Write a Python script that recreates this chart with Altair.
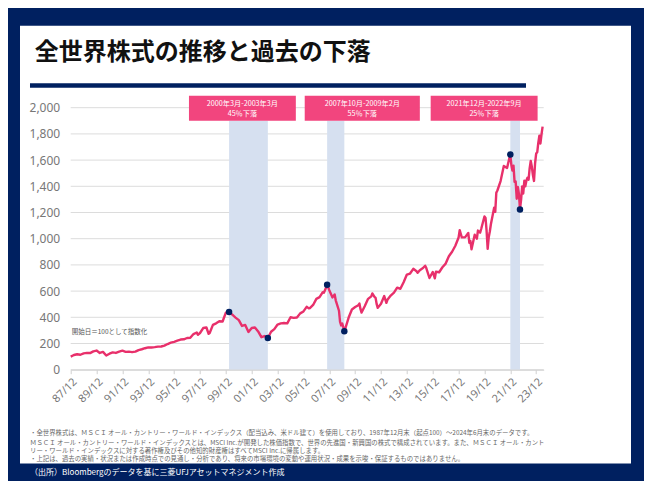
import altair as alt
import pandas as pd

# ---------------- data ----------------
months = [
    "1987-12", "1988-03", "1988-06", "1988-09", "1988-12",
    "1989-03", "1989-06", "1989-09", "1989-12",
    "1990-03", "1990-06", "1990-09", "1990-12",
    "1991-03", "1991-06", "1991-09", "1991-12",
    "1992-03", "1992-06", "1992-09", "1992-12",
    "1993-03", "1993-06", "1993-09", "1993-12",
    "1994-03", "1994-06", "1994-09", "1994-12",
    "1995-03", "1995-06", "1995-09", "1995-12",
    "1996-03", "1996-06", "1996-09", "1996-12",
    "1997-03", "1997-06", "1997-09", "1997-10", "1997-12",
    "1998-03", "1998-06", "1998-08", "1998-09", "1998-12",
    "1999-03", "1999-06", "1999-09", "1999-12",
    "2000-03", "2000-06", "2000-09", "2000-12",
    "2001-03", "2001-06", "2001-09", "2001-12",
    "2002-03", "2002-06", "2002-09", "2002-12",
    "2003-03", "2003-06", "2003-09", "2003-12",
    "2004-03", "2004-06", "2004-09", "2004-12",
    "2005-03", "2005-06", "2005-09", "2005-12",
    "2006-03", "2006-05", "2006-06", "2006-09", "2006-12",
    "2007-03", "2007-06", "2007-07", "2007-09", "2007-10", "2007-12",
    "2008-03", "2008-05", "2008-06", "2008-09", "2008-10", "2008-11", "2008-12",
    "2009-01", "2009-02", "2009-03", "2009-06", "2009-09", "2009-12",
    "2010-03", "2010-04", "2010-05", "2010-06", "2010-09", "2010-12",
    "2011-03", "2011-04", "2011-06", "2011-07", "2011-08", "2011-09", "2011-12",
    "2012-03", "2012-05", "2012-06", "2012-09", "2012-12",
    "2013-03", "2013-06", "2013-09", "2013-12",
    "2014-03", "2014-06", "2014-09", "2014-10", "2014-12",
    "2015-03", "2015-05", "2015-06", "2015-09", "2015-12",
    "2016-02", "2016-03", "2016-06", "2016-09", "2016-12",
    "2017-03", "2017-06", "2017-09", "2017-12",
    "2018-01", "2018-03", "2018-06", "2018-09", "2018-10", "2018-11", "2018-12",
    "2019-03", "2019-05", "2019-06", "2019-08", "2019-09", "2019-12",
    "2020-01", "2020-02", "2020-03", "2020-04", "2020-05", "2020-06", "2020-09",
    "2020-10", "2020-11", "2020-12",
    "2021-03", "2021-06", "2021-09", "2021-11", "2021-12",
    "2022-01", "2022-02", "2022-03", "2022-04", "2022-05", "2022-06", "2022-07",
    "2022-08", "2022-09", "2022-10", "2022-11", "2022-12",
    "2023-01", "2023-02", "2023-03", "2023-04", "2023-05", "2023-06", "2023-07",
    "2023-08", "2023-09", "2023-10", "2023-11", "2023-12",
    "2024-01", "2024-02", "2024-03", "2024-04", "2024-05", "2024-06",
]
index_values = [
    100, 112, 118, 114, 125,
    128, 127, 140, 146,
    128, 136, 108, 122,
    132, 128, 138, 145,
    136, 138, 134, 138,
    150, 156, 164, 170,
    170, 172, 176, 177,
    184, 196, 206, 213,
    222, 230, 232, 242,
    244, 272, 284, 266, 280,
    318, 322, 274, 280, 342,
    354, 370, 368, 436,
    440, 420, 398, 378,
    334, 342, 288, 318,
    322, 292, 248, 257,
    242, 290, 310, 345,
    354, 356, 354, 400,
    396, 398, 430, 445,
    480, 468, 470, 494, 541,
    554, 592, 588, 626, 649, 607,
    552, 574, 530, 450, 364, 338, 353,
    322, 293, 318, 398, 460, 478,
    492, 505, 462, 436, 486, 541,
    560, 582, 556, 548, 500, 472, 504,
    562, 510, 534, 566, 588,
    626, 618, 668, 726,
    734, 770, 752, 740, 760,
    776, 794, 778, 700, 746,
    698, 748, 744, 782, 810,
    866, 900, 946, 1009,
    1065, 1010, 1010, 1044, 968, 982, 919,
    1030, 1000, 1062, 1046, 1074, 1170,
    1158, 1064, 922, 1010, 1055, 1110, 1236,
    1205, 1350, 1368,
    1440, 1555, 1540, 1610, 1642,
    1560, 1520, 1558, 1434, 1436, 1305, 1395,
    1342, 1223, 1297, 1398, 1345,
    1442, 1400, 1444, 1466, 1451, 1537, 1594,
    1549, 1486, 1441, 1574, 1650,
    1660, 1731, 1786, 1727, 1798, 1855,
]

marker_months = ["2000-03", "2003-03", "2007-10", "2009-02", "2021-12", "2022-09"]

period_start = ["2000-03", "2007-10", "2021-12"]
period_end = ["2003-03", "2009-02", "2022-09"]
period_label = ["2000年3月-2003年3月", "2007年10月-2009年2月", "2021年12月-2022年9月"]
period_drop = ["45％下落", "55％下落", "25％下落"]
box_start = ["1997-02-22", "2006-02-05", "2015-11-03"]
box_end = ["2005-05-30", "2015-01-01", "2024-02-10"]

y_ticks = [0, 200, 400, 600, 800, 1000, 1200, 1400, 1600, 1800, 2000]
x_tick_years = [1987, 1989, 1991, 1993, 1995, 1997, 1999, 2001, 2003, 2005,
                2007, 2009, 2011, 2013, 2015, 2017, 2019, 2021, 2023]

title_text = "全世界株式の推移と過去の下落"
note_text = "開始日＝100として指数化"
footnotes = [
    "・全世界株式は、ＭＳＣＩ オール・カントリー・ワールド・インデックス（配当込み、米ドル建て）を使用しており、1987年12月末（起点100）～2024年6月末のデータです。",
    "ＭＳＣＩ オール・カントリー・ワールド・インデックスとは、MSCI Inc.が開発した株価指数で、世界の先進国・新興国の株式で構成されています。また、ＭＳＣＩ オール・カント",
    "リー・ワールド・インデックスに対する著作権及びその他知的財産権はすべてMSCI Inc.に帰属します。",
    "・上記は、過去の実績・状況または作成時点での見通し・分析であり、将来の市場環境の変動や運用状況・成果を示唆・保証するものではありません。",
]
source_text = "（出所）Bloombergのデータを基に三菱UFJアセットマネジメント作成"

# ---------------- tables ----------------
def month_end(s):
    return pd.to_datetime(s) + pd.offsets.MonthEnd(0)

series = pd.DataFrame({"date": [month_end(m) for m in months], "value": index_values})
markers = series[series["date"].isin([month_end(m) for m in marker_months])]
periods = pd.DataFrame({
    "start": [month_end(m) for m in period_start],
    "end": [month_end(m) for m in period_end],
    "bs": pd.to_datetime(box_start),
    "be": pd.to_datetime(box_end),
    "label": period_label,
    "drop": period_drop,
})
periods["mid"] = periods["bs"] + (periods["be"] - periods["bs"]) / 2
periods["shade_top"] = 1901
periods["shade_bot"] = 0
periods["box_top"] = 2091
periods["line1_y"] = 2031
periods["line2_y"] = 1950

# ---------------- style ----------------
NAVY = "#002060"
LINE = "#e8306b"
BOX = "#f2457e"
SHADE = "#d6e0f0"
GRID = "#dcdcdc"
JP = "Noto Sans CJK JP"
NUM = "Noto Sans"

W, H = 473, 262
x_scale = alt.Scale(domain=[alt.DateTime(year=1987, month=12, date=31),
                            alt.DateTime(year=2024, month=7, date=31)], nice=False)
y_scale = alt.Scale(domain=[0, 2000], nice=False, zero=False)

x_axis = alt.Axis(values=[alt.DateTime(year=y, month=12, date=31) for y in x_tick_years],
                  format="%y/%m", labelAngle=315, labelAlign="right", labelBaseline="top",
                  labelFontSize=11, labelColor="#777777", labelFont=NUM, labelPadding=2,
                  labelOverlap=False, labelFlush=False, grid=False, title=None,
                  domainColor="#d0d0d0", tickColor="#d0d0d0", tickSize=4, zindex=1)
y_axis = alt.Axis(values=y_ticks, format=",d", grid=False, domain=False, ticks=False, title=None,
                  labelPadding=11, labelFontSize=12, labelColor="#777777", labelFont=NUM,
                  zindex=1)


def X(field, **kw):
    return alt.X(field, scale=x_scale, axis=x_axis, title=None, **kw)


def Y(field, **kw):
    return alt.Y(field, scale=y_scale, axis=y_axis, title=None, **kw)


def one(text):
    return pd.DataFrame({"t": [text]})


panel = alt.Chart(one("")).mark_rect(color="white").encode(
    x=alt.value(-50.7), x2=alt.value(560.3), y=alt.value(-81.9), y2=alt.value(355.9))
title = alt.Chart(one(title_text)).mark_text(
    align="left", baseline="middle", font=JP, fontSize=24, fontWeight="bold", color="#111111"
).encode(text="t:N", x=alt.value(-36), y=alt.value(-54.5))
underline = alt.Chart(one("")).mark_rule(color=NAVY, strokeWidth=4.5).encode(
    x=alt.value(-40.7), x2=alt.value(455.3), y=alt.value(-22.2))

foot_y = [325.5, 335.5, 343.2, 351.3]
foot_layers = [
    alt.Chart(one(t)).mark_text(align="left", baseline="middle", font=JP, fontSize=6.4,
                                color="#666666").encode(text="t:N", x=alt.value(-40.7), y=alt.value(yy))
    for t, yy in zip(footnotes, foot_y)
]
source = alt.Chart(one(source_text)).mark_text(
    align="left", baseline="middle", font=JP, fontSize=8, color="white"
).encode(text="t:N", x=alt.value(-40.7), y=alt.value(365.5))

grid = alt.Chart(pd.DataFrame({"v": y_ticks})).mark_rule(color=GRID, strokeWidth=1).encode(
    y=Y("v:Q"), x=alt.value(0), x2=alt.value(W))

shade = alt.Chart(periods).mark_rect(color=SHADE).encode(
    x=X("start:T"), x2="end:T", y=Y("shade_top:Q"), y2="shade_bot:Q")

line = alt.Chart(series).mark_line(color=LINE, strokeWidth=2.4, strokeJoin="round").encode(
    x=X("date:T"), y=Y("value:Q"))

dots = alt.Chart(markers).mark_circle(color=NAVY, size=42, opacity=1).encode(
    x=X("date:T"), y=Y("value:Q"))

boxes = alt.Chart(periods).mark_rect(color=BOX).encode(
    x=X("bs:T"), x2="be:T", y=Y("box_top:Q"), y2="shade_top:Q")
box_l1 = alt.Chart(periods).mark_text(font=JP, fontSize=7.2, color="white", baseline="middle").encode(
    x=X("mid:T"), y=Y("line1_y:Q"), text="label:N")
box_l2 = alt.Chart(periods).mark_text(font=JP, fontSize=7.2, color="white", baseline="middle").encode(
    x=X("mid:T"), y=Y("line2_y:Q"), text="drop:N")

note = alt.Chart(one(note_text)).mark_text(
    align="left", baseline="middle", font=JP, fontSize=6.5, color="#555555"
).encode(text="t:N", x=alt.value(1), y=alt.value(224.6))

chart = alt.layer(
    panel, title, underline, *foot_layers, source, grid, shade, line, dots, boxes, box_l1, box_l2, note
).properties(
    width=W, height=H,
    autosize=alt.AutoSizeParams(type="none"),
    padding={"left": 62.7, "top": 99.7, "right": 100.3, "bottom": 111.3},
    background=NAVY,
).configure_view(stroke=None)

chart.save("out.html", embed_options={"renderer": "svg", "actions": False})
